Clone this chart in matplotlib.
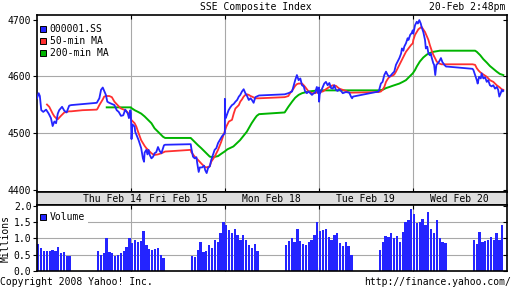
import matplotlib
matplotlib.use("Agg")
import matplotlib.pyplot as plt
from matplotlib.patches import Rectangle

plt.rcParams["font.family"] = ["DejaVu Sans Mono"]
plt.rcParams["font.size"] = 7

# -------------------------------------------------
# data
# -------------------------------------------------
DAYS = ["Thu", "Fri", "Mon", "Tue", "Wed"]
day_labels = ["Thu Feb 14", "Fri Feb 15", "Mon Feb 18", "Tue Feb 19", "Wed Feb 20"]

ss_time = [
    "Thu 09:30", "Thu 09:36", "Thu 09:40", "Thu 09:45", "Thu 09:52", "Thu 10:02", "Thu 10:11", "Thu 10:19",
    "Thu 10:25", "Thu 10:31", "Thu 10:37", "Thu 10:43", "Thu 10:48", "Thu 10:58", "Thu 11:06", "Thu 11:14",
    "Thu 11:23", "Thu 11:30", "Thu 13:00", "Thu 13:09", "Thu 13:15", "Thu 13:21", "Thu 13:26", "Thu 13:32",
    "Thu 13:37", "Thu 13:44", "Thu 13:53", "Thu 14:02", "Thu 14:10", "Thu 14:17", "Thu 14:25", "Thu 14:33",
    "Thu 14:40", "Thu 14:49", "Thu 14:53", "Thu 14:58", "Thu 15:00",
    "Fri 09:30", "Fri 09:32", "Fri 09:35", "Fri 09:37", "Fri 09:43", "Fri 09:45", "Fri 09:52", "Fri 09:57",
    "Fri 10:06", "Fri 10:12", "Fri 10:16", "Fri 10:18", "Fri 10:24", "Fri 10:28", "Fri 10:32", "Fri 10:36",
    "Fri 10:42", "Fri 10:48", "Fri 10:53", "Fri 10:59", "Fri 11:05", "Fri 11:11", "Fri 11:17", "Fri 11:23",
    "Fri 11:26", "Fri 11:30", "Fri 13:00", "Fri 13:02", "Fri 13:08", "Fri 13:14", "Fri 13:20", "Fri 13:23",
    "Fri 13:28", "Fri 13:32", "Fri 13:40", "Fri 13:47", "Fri 13:51", "Fri 13:56", "Fri 14:01", "Fri 14:07",
    "Fri 14:12", "Fri 14:18", "Fri 14:24", "Fri 14:30", "Fri 14:36", "Fri 14:42", "Fri 14:50", "Fri 14:57",
    "Fri 15:00",
    "Mon 09:30", "Mon 09:31", "Mon 09:33", "Mon 09:43", "Mon 09:49", "Mon 09:55", "Mon 10:01", "Mon 10:07",
    "Mon 10:13", "Mon 10:19", "Mon 10:24", "Mon 10:30", "Mon 10:36", "Mon 10:42", "Mon 10:48", "Mon 10:54",
    "Mon 11:00", "Mon 11:05", "Mon 11:11", "Mon 11:17", "Mon 11:26", "Mon 11:30", "Mon 13:00", "Mon 13:13",
    "Mon 13:26", "Mon 13:32", "Mon 13:37", "Mon 13:43", "Mon 13:49", "Mon 13:55", "Mon 14:01", "Mon 14:07",
    "Mon 14:12", "Mon 14:18", "Mon 14:24", "Mon 14:30", "Mon 14:36", "Mon 14:42", "Mon 14:47", "Mon 14:53",
    "Mon 14:57", "Mon 15:00",
    "Tue 09:30", "Tue 09:31", "Tue 09:33", "Tue 09:44", "Tue 09:49", "Tue 09:55", "Tue 10:01", "Tue 10:07",
    "Tue 10:13", "Tue 10:19", "Tue 10:24", "Tue 10:30", "Tue 10:36", "Tue 10:42", "Tue 10:48", "Tue 10:54",
    "Tue 11:05", "Tue 11:17", "Tue 11:23", "Tue 11:27", "Tue 11:30", "Tue 13:00", "Tue 13:02", "Tue 13:08",
    "Tue 13:14", "Tue 13:20", "Tue 13:26", "Tue 13:32", "Tue 13:38", "Tue 13:44", "Tue 13:49", "Tue 13:55",
    "Tue 14:01", "Tue 14:07", "Tue 14:13", "Tue 14:19", "Tue 14:22", "Tue 14:27", "Tue 14:30", "Tue 14:36",
    "Tue 14:42", "Tue 14:45", "Tue 14:51", "Tue 14:56", "Tue 15:00",
    "Wed 09:30", "Wed 09:32", "Wed 09:38", "Wed 09:44", "Wed 09:48", "Wed 09:53", "Wed 09:58", "Wed 10:01",
    "Wed 10:07", "Wed 10:13", "Wed 10:16", "Wed 10:21", "Wed 10:25", "Wed 10:30", "Wed 10:33", "Wed 10:37",
    "Wed 10:42", "Wed 10:45", "Wed 10:49", "Wed 10:53", "Wed 10:59", "Wed 11:05", "Wed 11:09", "Wed 11:14",
    "Wed 11:17", "Wed 11:21", "Wed 11:27", "Wed 11:30", "Wed 13:00", "Wed 13:03", "Wed 13:09", "Wed 13:15",
    "Wed 13:18", "Wed 13:23", "Wed 13:29", "Wed 13:32", "Wed 13:38", "Wed 13:44", "Wed 13:50", "Wed 13:55",
    "Wed 14:01", "Wed 14:07", "Wed 14:13", "Wed 14:19", "Wed 14:25", "Wed 14:30", "Wed 14:34", "Wed 14:39",
    "Wed 14:43", "Wed 14:46", "Wed 14:48",
]
ss_value = [
    4561, 4570, 4565, 4540, 4537, 4541, 4534, 4526, 4512, 4520, 4517, 4534, 4540, 4546, 4539, 4536,
    4548, 4549, 4553, 4561, 4576, 4580, 4574, 4567, 4555, 4553, 4551, 4549, 4540, 4537, 4530, 4531,
    4541, 4534, 4526, 4540, 4535,
    4530, 4489, 4515, 4514, 4511, 4502, 4493, 4487, 4473, 4455, 4449, 4465, 4470, 4462, 4470, 4461,
    4455, 4458, 4464, 4466, 4475, 4468, 4464, 4473, 4478, 4479, 4480, 4473, 4458, 4455, 4457, 4446,
    4431, 4439, 4439, 4442, 4434, 4429, 4438, 4441, 4452, 4461, 4470, 4473, 4482, 4487, 4494, 4498,
    4499,
    4560, 4530, 4526, 4540, 4545, 4549, 4551, 4555, 4558, 4564, 4567, 4573, 4577, 4570, 4565, 4558,
    4561, 4558, 4553, 4563, 4565, 4566, 4568, 4570, 4573, 4584, 4593, 4602, 4593, 4596, 4584, 4582,
    4573, 4570, 4573, 4570, 4567, 4570, 4571, 4581, 4570, 4576,
    4580, 4555, 4568, 4581, 4587, 4590, 4584, 4588, 4579, 4578, 4584, 4576, 4574, 4577, 4574, 4570,
    4572, 4571, 4564, 4561, 4564, 4573, 4576, 4587, 4590, 4602, 4608, 4602, 4599, 4602, 4605, 4608,
    4620, 4626, 4632, 4640, 4649, 4645, 4652, 4658, 4667, 4664, 4673, 4676, 4681,
    4681, 4675, 4690, 4696, 4693, 4699, 4693, 4687, 4678, 4664, 4649, 4652, 4640, 4637, 4640, 4632,
    4623, 4620, 4602, 4620, 4623, 4628, 4632, 4625, 4623, 4620, 4617, 4617, 4613, 4611, 4602, 4593,
    4587, 4599, 4596, 4605, 4596, 4598, 4590, 4593, 4584, 4582, 4584, 4578, 4581, 4576, 4564, 4570,
    4576, 4573, 4574,
]

ma50_time = [
    "Thu 10:05", "Thu 10:13", "Thu 10:19", "Thu 10:25", "Thu 10:31", "Thu 10:37", "Thu 10:43", "Thu 10:54",
    "Thu 11:06", "Thu 11:23", "Thu 11:30", "Thu 12:10", "Thu 13:00", "Thu 13:03", "Thu 13:09", "Thu 13:15",
    "Thu 13:21", "Thu 13:26", "Thu 13:32", "Thu 13:44", "Thu 13:53", "Thu 14:02", "Thu 14:13", "Thu 14:25",
    "Thu 14:40", "Thu 14:49", "Thu 14:55", "Thu 15:00",
    "Fri 09:31", "Fri 09:43", "Fri 09:49", "Fri 09:55", "Fri 10:01", "Fri 10:06", "Fri 10:12", "Fri 10:18",
    "Fri 10:24", "Fri 10:30", "Fri 10:36", "Fri 10:42", "Fri 10:48", "Fri 10:53", "Fri 11:05", "Fri 11:17",
    "Fri 11:26", "Fri 11:30", "Fri 13:00", "Fri 13:02", "Fri 13:14", "Fri 13:26", "Fri 13:37", "Fri 13:49",
    "Fri 13:55", "Fri 14:07", "Fri 14:12", "Fri 14:24", "Fri 14:36", "Fri 14:47", "Fri 14:59",
    "Mon 09:35", "Mon 09:44", "Mon 09:55", "Mon 10:01", "Mon 10:07", "Mon 10:13", "Mon 10:19", "Mon 10:24",
    "Mon 10:30", "Mon 10:36", "Mon 10:42", "Mon 10:48", "Mon 10:54", "Mon 11:00", "Mon 11:05", "Mon 11:17",
    "Mon 11:30", "Mon 13:00", "Mon 13:13", "Mon 13:19", "Mon 13:25", "Mon 13:31", "Mon 13:37", "Mon 13:43",
    "Mon 13:49", "Mon 14:01", "Mon 14:07", "Mon 14:12", "Mon 14:18", "Mon 14:24", "Mon 14:36", "Mon 14:47",
    "Mon 14:59",
    "Tue 09:30", "Tue 09:44", "Tue 09:55", "Tue 10:07", "Tue 10:19", "Tue 10:30", "Tue 10:42", "Tue 10:54",
    "Tue 11:05", "Tue 11:17", "Tue 11:30", "Tue 13:00", "Tue 13:08", "Tue 13:14", "Tue 13:20", "Tue 13:26",
    "Tue 13:32", "Tue 13:38", "Tue 13:49", "Tue 13:55", "Tue 14:01", "Tue 14:07", "Tue 14:13", "Tue 14:19",
    "Tue 14:25", "Tue 14:31", "Tue 14:36", "Tue 14:42", "Tue 14:48", "Tue 14:54", "Tue 15:00",
    "Wed 09:32", "Wed 09:38", "Wed 09:50", "Wed 10:01", "Wed 10:13", "Wed 10:25", "Wed 10:30", "Wed 10:36",
    "Wed 10:42", "Wed 10:48", "Wed 10:54", "Wed 11:00", "Wed 11:11", "Wed 11:30", "Wed 13:00", "Wed 13:09",
    "Wed 13:15", "Wed 13:21", "Wed 13:27", "Wed 13:38", "Wed 13:50", "Wed 14:01", "Wed 14:13", "Wed 14:25",
    "Wed 14:36", "Wed 14:42", "Wed 14:48",
]
ma50_value = [
    4550, 4546, 4540, 4534, 4529, 4526, 4524, 4530, 4536, 4538, 4538, 4540, 4541, 4543, 4549, 4554,
    4559, 4564, 4565, 4565, 4563, 4555, 4549, 4543, 4540, 4536, 4529, 4526,
    4523, 4517, 4511, 4502, 4494, 4487, 4482, 4477, 4473, 4470, 4467, 4464, 4462, 4461, 4462, 4464,
    4466, 4467, 4470, 4466, 4458, 4452, 4446, 4440, 4439, 4441, 4449, 4458, 4470, 4484, 4502,
    4511, 4520, 4523, 4534, 4543, 4546, 4549, 4555, 4559, 4564, 4567, 4568, 4567, 4565, 4564, 4561,
    4561, 4563, 4565, 4570, 4574, 4578, 4583, 4586, 4587, 4587, 4584, 4581, 4577, 4573, 4570, 4570,
    4573,
    4572, 4573, 4577, 4581, 4584, 4583, 4578, 4576, 4574, 4571, 4571, 4572, 4573, 4576, 4581, 4590,
    4595, 4599, 4601, 4603, 4608, 4614, 4620, 4626, 4632, 4638, 4643, 4647, 4651, 4655, 4658,
    4664, 4673, 4683, 4687, 4678, 4664, 4655, 4646, 4638, 4632, 4626, 4623, 4621, 4621, 4621, 4620,
    4614, 4610, 4607, 4603, 4599, 4593, 4590, 4584, 4580, 4577, 4576,
]

ma200_time = [
    "Thu 13:35", "Thu 15:00",
    "Fri 09:31", "Fri 09:43", "Fri 09:55", "Fri 10:06", "Fri 10:18", "Fri 10:30", "Fri 10:42", "Fri 10:53",
    "Fri 11:05", "Fri 11:17", "Fri 11:23", "Fri 11:30", "Fri 13:00", "Fri 13:02", "Fri 13:14", "Fri 13:26",
    "Fri 13:37", "Fri 13:49", "Fri 14:01", "Fri 14:07", "Fri 14:18", "Fri 14:36", "Fri 14:47", "Fri 14:59",
    "Mon 09:39", "Mon 10:00", "Mon 10:23", "Mon 10:47", "Mon 11:04", "Mon 11:16", "Mon 11:22", "Mon 11:30",
    "Mon 13:00", "Mon 13:13", "Mon 13:26", "Mon 13:37", "Mon 13:49", "Mon 14:01", "Mon 14:24", "Mon 14:59",
    "Tue 09:30", "Tue 11:30", "Tue 13:00", "Tue 13:14", "Tue 13:26", "Tue 13:38", "Tue 13:49", "Tue 14:01",
    "Tue 14:13", "Tue 14:25", "Tue 14:36", "Tue 14:48", "Tue 15:00",
    "Wed 09:38", "Wed 09:44", "Wed 09:55", "Wed 10:07", "Wed 10:19", "Wed 10:30", "Wed 10:42", "Wed 11:05",
    "Wed 11:30", "Wed 13:00", "Wed 13:09", "Wed 13:15", "Wed 13:27", "Wed 13:38", "Wed 13:50", "Wed 14:01",
    "Wed 14:13", "Wed 14:25", "Wed 14:36", "Wed 14:48",
]
ma200_value = [
    4545, 4545,
    4544, 4540, 4537, 4534, 4529, 4523, 4517, 4508, 4502, 4496, 4493, 4491, 4491, 4490, 4484, 4478,
    4473, 4467, 4461, 4458, 4457, 4459, 4463, 4467,
    4471, 4476, 4487, 4502, 4517, 4526, 4530, 4533, 4536, 4546, 4555, 4562, 4567, 4570, 4573, 4575,
    4575, 4575, 4575, 4576, 4579, 4581, 4583, 4585, 4587, 4590, 4593, 4599, 4605,
    4611, 4617, 4626, 4633, 4638, 4641, 4643, 4645, 4645, 4645, 4645, 4643, 4637, 4630, 4624, 4618,
    4613, 4608, 4604, 4602,
]

# 10-minute volume bars (millions), morning then afternoon session
bar_slots = [
    "09:30", "09:40", "09:50", "10:00", "10:10", "10:20", "10:30", "10:40", "10:50", "11:00", "11:10", "11:20",
    "13:00", "13:10", "13:20", "13:30", "13:40", "13:50", "14:00", "14:10", "14:20", "14:30", "14:40", "14:50",
]
vol_thu = [0.82, 0.70, 0.62, 0.62, 0.60, 0.65, 0.62, 0.72, 0.55, 0.58, 0.47, 0.45,
           0.60, 0.50, 0.55, 1.00, 0.58, 0.55, 0.47, 0.50, 0.55, 0.62, 0.72, 1.00]
vol_fri = [0.85, 0.95, 0.88, 0.92, 1.22, 0.80, 0.68, 0.63, 0.68, 0.70, 0.50, 0.40,
           0.47, 0.42, 0.64, 0.90, 0.59, 0.62, 0.80, 0.70, 0.95, 0.88, 1.15, 1.50]
vol_mon = [1.40, 1.25, 1.15, 1.28, 1.10, 0.95, 1.10, 0.95, 0.80, 0.69, 0.82, 0.60,
           0.80, 0.92, 1.02, 0.90, 1.28, 0.92, 0.82, 0.80, 0.88, 0.95, 1.10, 1.50]
vol_tue = [1.22, 1.25, 1.30, 1.05, 0.95, 1.10, 1.15, 0.85, 0.78, 0.90, 0.75, 0.50,
           0.65, 0.90, 1.08, 1.05, 1.15, 1.00, 1.06, 0.88, 1.20, 1.50, 1.55, 1.90]
vol_wed = [1.75, 1.47, 1.50, 1.60, 1.40, 1.80, 1.30, 1.15, 1.55, 1.00, 0.90, 0.85,
           0.95, 0.82, 1.20, 0.90, 0.92, 0.95, 1.05, 0.95, 1.15, 0.95, 1.40]

price_ticks = [4400, 4500, 4600, 4700]
vol_ticks = [0.0, 0.5, 1.0, 1.5, 2.0]


# -------------------------------------------------
# session axis: each trading day 09:30-15:00 = 5.5 h
# -------------------------------------------------

def pos(stamp):
    day, hhmm = stamp.split()
    h, m = hhmm.split(":")
    return DAYS.index(day) * 5.5 + int(h) + int(m) / 60 - 9.5


BLUE = "#2424ff"
RED = "#ff3030"
GREEN = "#00b400"
GRID = "#a8a8a8"
W, H = 512, 288
X0, X1 = 37, 506.7


def fig_box(top, bottom):
    return [X0 / W, 1 - bottom / H, (X1 - X0) / W, (bottom - top) / H]


def fpt(x, y):
    return (x / W, 1 - y / H)


fig = plt.figure(figsize=(W / 100, H / 100), dpi=100)

ax = fig.add_axes(fig_box(15, 191.5))
band = fig.add_axes(fig_box(191.5, 205))
axv = fig.add_axes(fig_box(205, 271))

day_edges = [5.5, 11, 16.5, 22]

for a in (ax, band, axv):
    a.set_xlim(0, 27.5)
    for s in a.spines.values():
        s.set_linewidth(1.2)
        s.set_color("black")

# -------------------------------------------------
# price panel
# -------------------------------------------------
ax.set_ylim(4396.5, 4708)
for x in day_edges:
    ax.axvline(x, color=GRID, lw=0.8, zorder=0)
for y in (4500, 4600):
    ax.axhline(y, color=GRID, lw=0.8, zorder=0)

ax.plot([pos(t) for t in ma200_time], ma200_value, color=GREEN, lw=1.4, zorder=2)
ax.plot([pos(t) for t in ma50_time], ma50_value, color=RED, lw=1.3, zorder=3)
ax.plot([pos(t) for t in ss_time], ss_value, color=BLUE, lw=1.3, zorder=4)

ax.set_yticks(price_ticks)
ax.set_yticklabels([str(v) for v in price_ticks])
ax.set_xticks(day_edges)
ax.tick_params(axis="y", direction="out", length=3, width=0.8, pad=1, labelsize=7)
ax.tick_params(axis="x", direction="in", length=3, width=0.8, top=True, bottom=True,
               labelbottom=False)

axr = ax.twinx()
axr.set_ylim(ax.get_ylim())
axr.set_yticks(price_ticks)
axr.tick_params(axis="y", direction="in", length=3, width=0.8, labelright=False)
for s in axr.spines.values():
    s.set_visible(False)

# -------------------------------------------------
# date band
# -------------------------------------------------
band.set_facecolor("#dedede")
band.set_ylim(0, 1)
band.set_xticks([])
band.set_yticks([])
label_pos = [4.42, 8.25, 13.75, 19.25, 24.75]
for lab, xp in zip(day_labels, label_pos):
    band.text(xp, 0.45, lab, ha="center", va="center", fontsize=7)

# -------------------------------------------------
# volume panel
# -------------------------------------------------
axv.set_ylim(0, 2.02)
for x in day_edges:
    axv.axvline(x, color=GRID, lw=0.8, zorder=0)
for y in (0.5, 1.0, 1.5):
    axv.axhline(y, color=GRID, lw=0.8, zorder=0)

for day, vols in zip(DAYS, [vol_thu, vol_fri, vol_mon, vol_tue, vol_wed]):
    xs = [pos(f"{day} {s}") + 0.01 for s in bar_slots[:len(vols)]]
    axv.bar(xs, vols, width=0.135, align="edge", color=BLUE, lw=0, zorder=2)

axv.set_yticks(vol_ticks)
axv.set_yticklabels([f"{v:.1f}" for v in vol_ticks])
axv.set_xticks(day_edges)
axv.tick_params(axis="y", direction="out", length=3, width=0.8, pad=1, labelsize=7)
axv.tick_params(axis="x", direction="in", length=3, width=0.8, top=True, bottom=True,
                labelbottom=False)
axv.set_ylabel("Millions", fontsize=7, labelpad=1)
axv.yaxis.set_label_coords(-26 / (X1 - X0), 0.5)

axvr = axv.twinx()
axvr.set_ylim(axv.get_ylim())
axvr.set_yticks(vol_ticks)
axvr.tick_params(axis="y", direction="in", length=3, width=0.8, labelright=False)
for s in axvr.spines.values():
    s.set_visible(False)

# -------------------------------------------------
# legends
# -------------------------------------------------
legend_rows = [("000001.SS", BLUE, 29), ("50-min MA", RED, 41), ("200-min MA", GREEN, 53)]
for name, col, yc in legend_rows:
    fig.add_artist(Rectangle(fpt(40, yc + 3), 6 / W, 6 / H, transform=fig.transFigure,
                             facecolor=col, edgecolor="black", lw=0.7))
    fig.text(*fpt(49.5, yc), name, ha="left", va="center", fontsize=7)

fig.add_artist(Rectangle(fpt(38, 226), 50 / W, 19 / H, transform=fig.transFigure,
                         facecolor="white", edgecolor="none", zorder=1))
fig.add_artist(Rectangle(fpt(40, 220), 6 / W, 6 / H, transform=fig.transFigure,
                         facecolor=BLUE, edgecolor="black", lw=0.7, zorder=2))
fig.text(*fpt(49.5, 217), "Volume", ha="left", va="center", fontsize=7, zorder=3)

# -------------------------------------------------
# titles / footer
# -------------------------------------------------
fig.text(*fpt(256, 7), "SSE Composite Index", ha="center", va="center", fontsize=7)
fig.text(*fpt(505, 7), "20-Feb 2:48pm", ha="right", va="center", fontsize=7)
fig.text(*fpt(0, 282), "Copyright 2008 Yahoo! Inc.", ha="left", va="center", fontsize=7)
fig.text(*fpt(511, 282), "http://finance.yahoo.com/", ha="right", va="center", fontsize=7)

fig.savefig("out.png", dpi=100, facecolor="white")
